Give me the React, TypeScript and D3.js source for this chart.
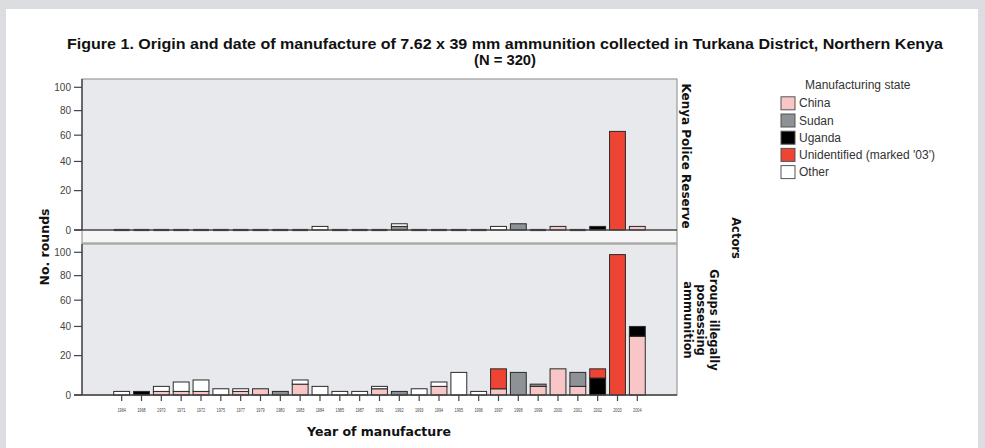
import React, { useEffect, useRef } from "react";
import * as d3 from "d3";

const years = [
  "1964", "1968", "1970", "1971", "1972", "1975", "1977", "1979", "1980",
  "1983", "1984", "1985", "1987", "1991", "1992", "1993", "1994", "1995",
  "1996", "1997", "1998", "1999", "2000", "2001", "2002", "2003", "2004",
];

const states = ["China", "Sudan", "Uganda", "Unidentified (marked '03')", "Other"];
const stateColors = ["#f8c6c6", "#8e9195", "#000000", "#ee4433", "#ffffff"];

// Kenya Police Reserve
const kprChina = [0, 0, 0, 0, 0, 0, 0, 0, 0, 0, 0, 0, 0, 0, 0, 0, 0, 0, 0, 0, 0, 0, 1, 0, 0, 0, 1];
const kprSudan = [0, 0, 0, 0, 0, 0, 0, 0, 0, 0, 0, 0, 0, 0, 1, 0, 0, 0, 0, 0, 2, 0, 0, 0, 0, 0, 0];
const kprUganda = [0, 0, 0, 0, 0, 0, 0, 0, 0, 0, 0, 0, 0, 0, 0, 0, 0, 0, 0, 0, 0, 0, 0, 0, 1, 0, 0];
const kprUnident = [0, 0, 0, 0, 0, 0, 0, 0, 0, 0, 0, 0, 0, 0, 0, 0, 0, 0, 0, 0, 0, 0, 0, 0, 0, 63, 0];
const kprOther = [0, 0, 0, 0, 0, 0, 0, 0, 0, 0, 1, 0, 0, 0, 1, 0, 0, 0, 0, 1, 0, 0, 0, 0, 0, 0, 0];

// Groups illegally possessing ammunition
const grpChina = [0, 0, 1, 1, 1, 0, 1, 2, 0, 4, 0, 0, 0, 2, 0, 0, 3, 0, 0, 2, 0, 3, 12, 3, 0, 0, 33];
const grpSudan = [0, 0, 0, 0, 0, 0, 0, 0, 1, 0, 0, 0, 0, 0, 1, 0, 0, 0, 0, 0, 10, 1, 0, 7, 0, 0, 0];
const grpUganda = [0, 1, 0, 0, 0, 0, 0, 0, 0, 0, 0, 0, 0, 0, 0, 0, 0, 0, 0, 0, 0, 0, 0, 0, 7, 0, 7];
const grpUnident = [0, 0, 0, 0, 0, 0, 0, 0, 0, 0, 0, 0, 0, 0, 0, 0, 0, 0, 0, 10, 0, 0, 0, 0, 5, 98, 0];
const grpOther = [1, 0, 2, 4, 5, 2, 1, 0, 0, 2, 3, 1, 1, 1, 0, 2, 2, 10, 1, 0, 0, 0, 0, 0, 0, 0, 0];

const yTicks = [0, 20, 40, 60, 80, 100];

const App: React.FC = () => {
  const ref = useRef<SVGSVGElement>(null);

  useEffect(() => {
    const W = 985, H = 448;
    const svg = d3.select(ref.current);
    svg.selectAll("*").remove();

    svg.append("rect").attr("width", W).attr("height", H).attr("fill", "#dcdde0");
    svg.append("rect").attr("x", 6).attr("y", 9).attr("width", 972).attr("height", H).attr("fill", "#ffffff");

    const plotL = 82, plotR = 677;
    const x = d3.scaleBand().domain(years).range([plotL, plotR]).paddingInner(0.2).paddingOuter(1.6);

    // title
    const titleFont = "'Liberation Sans Narrow', 'Liberation Sans', Arial, sans-serif";
    svg.append("text")
      .attr("x", 505).attr("y", 49)
      .attr("text-anchor", "middle")
      .attr("textLength", 876).attr("lengthAdjust", "spacingAndGlyphs")
      .style("font-family", titleFont)
      .style("font-weight", "bold").style("font-size", "14px").attr("fill", "#111")
      .text("Figure 1. Origin and date of manufacture of 7.62 x 39 mm ammunition collected in Turkana District, Northern Kenya");
    svg.append("text")
      .attr("x", 505).attr("y", 65)
      .attr("text-anchor", "middle")
      .attr("textLength", 62).attr("lengthAdjust", "spacingAndGlyphs")
      .style("font-family", titleFont)
      .style("font-weight", "bold").style("font-size", "14px").attr("fill", "#111")
      .text("(N = 320)");

    const keys = ["china", "sudan", "uganda", "unident", "other"];

    const panels = [
      { top: 79, base: 230, bottom: 243, y100: 87.3, series: [kprChina, kprSudan, kprUganda, kprUnident, kprOther] },
      { top: 244, base: 395, bottom: 395, y100: 252.3, series: [grpChina, grpSudan, grpUganda, grpUnident, grpOther] },
    ];

    panels.forEach((p, pi) => {
      const g = svg.append("g");
      const y = d3.scalePow().exponent(0.8).domain([0, 100]).range([p.base, p.y100]);

      g.append("rect").attr("x", plotL).attr("y", p.top).attr("width", plotR - plotL).attr("height", p.base - p.top)
        .attr("fill", "#e7e9ec");
      if (p.bottom > p.base) {
        g.append("rect").attr("x", plotL).attr("y", p.base).attr("width", plotR - plotL).attr("height", p.bottom - p.base)
          .attr("fill", "#f6f6f7");
      }
      g.append("rect").attr("x", plotL).attr("y", p.top).attr("width", plotR - plotL).attr("height", p.bottom - p.top)
        .attr("fill", "none").attr("stroke", "#9a9a9a").attr("stroke-width", 1.2);

      const rows = years.map((yr, i) => {
        const r: any = { year: yr };
        keys.forEach((k, ki) => (r[k] = p.series[ki][i]));
        return r;
      });
      const stacked = d3.stack().keys(keys)(rows);

      stacked.forEach((layer, li) => {
        g.selectAll(null)
          .data(layer.filter(d => d[1] - d[0] > 0))
          .enter()
          .append("rect")
          .attr("x", d => x((d.data as any).year)!)
          .attr("width", x.bandwidth())
          .attr("y", d => y(d[1]))
          .attr("height", d => y(d[0]) - y(d[1]))
          .attr("fill", stateColors[li])
          .attr("stroke", "#2a2a2a")
          .attr("stroke-width", 1);
      });

      // empty categories show as a dark dash on the baseline
      g.selectAll(null)
        .data(rows.filter(r => keys.every(k => r[k] === 0)))
        .enter()
        .append("line")
        .attr("x1", d => x(d.year)!)
        .attr("x2", d => x(d.year)! + x.bandwidth())
        .attr("y1", p.base).attr("y2", p.base)
        .attr("stroke", "#333").attr("stroke-width", 2.2);

      // axes
      g.append("line").attr("x1", plotL).attr("x2", plotL).attr("y1", p.top).attr("y2", p.base)
        .attr("stroke", "#444").attr("stroke-width", 1.4);
      g.append("line").attr("x1", plotL - 8).attr("x2", plotR).attr("y1", p.base).attr("y2", p.base)
        .attr("stroke", "#444").attr("stroke-width", 1.4);
      yTicks.forEach(t => {
        g.append("line").attr("x1", plotL - 8).attr("x2", plotL).attr("y1", y(t)).attr("y2", y(t))
          .attr("stroke", "#444").attr("stroke-width", 1.2);
        g.append("text").attr("x", plotL - 11).attr("y", y(t) + 3.5)
          .attr("text-anchor", "end")
          .style("font-family", "'Liberation Sans', Arial, sans-serif").style("font-size", "10px")
          .attr("fill", "#444").text(t);
      });

      if (pi === 1) {
        years.forEach(yr => {
          const cx = x(yr)! + x.bandwidth() / 2;
          g.append("line").attr("x1", cx).attr("x2", cx).attr("y1", p.base).attr("y2", p.base + 6)
            .attr("stroke", "#444").attr("stroke-width", 1.2);
          g.append("text").attr("x", cx).attr("y", 412)
            .attr("text-anchor", "middle")
            .attr("textLength", 8.5).attr("lengthAdjust", "spacingAndGlyphs")
            .style("font-family", "'Liberation Sans', Arial, sans-serif").style("font-size", "5.5px")
            .attr("fill", "#444").text(yr);
        });
      }
    });

    // axis titles
    svg.append("text").attr("x", 379).attr("y", 436).attr("text-anchor", "middle")
      .style("font-family", "'DejaVu Sans', Verdana, sans-serif").style("font-weight", "bold").style("font-size", "12.5px")
      .attr("fill", "#111").text("Year of manufacture");
    svg.append("text").attr("transform", "translate(49,247) rotate(-90)").attr("text-anchor", "middle")
      .style("font-family", "'DejaVu Sans', Verdana, sans-serif").style("font-weight", "bold").style("font-size", "12.5px")
      .attr("fill", "#111").text("No. rounds");

    // facet labels
    const stripFont = "'DejaVu Sans', Verdana, sans-serif";
    svg.append("text").attr("transform", "translate(682,156) rotate(90)").attr("text-anchor", "middle")
      .style("font-family", stripFont).style("font-weight", "bold").style("font-size", "12px")
      .attr("fill", "#111").text("Kenya Police Reserve");
    ["Groups illegally", "possessing", "ammunition"].forEach((t, i) => {
      svg.append("text").attr("transform", `translate(${710 - i * 13},320) rotate(90)`).attr("text-anchor", "middle")
        .style("font-family", stripFont).style("font-weight", "bold").style("font-size", "11.5px")
        .attr("fill", "#111").text(t);
    });
    svg.append("text").attr("transform", "translate(732,238) rotate(90)").attr("text-anchor", "middle")
      .style("font-family", stripFont).style("font-weight", "bold").style("font-size", "11.5px")
      .attr("fill", "#111").text("Actors");

    // legend
    const lg = svg.append("g");
    lg.append("text").attr("x", 805).attr("y", 89)
      .style("font-family", "'Liberation Sans', Arial, sans-serif").style("font-size", "12px")
      .attr("fill", "#333").text("Manufacturing state");
    states.forEach((s, i) => {
      const cy = 103.3 + i * 17.2;
      lg.append("rect").attr("x", 781).attr("y", cy - 6.5).attr("width", 14).attr("height", 13)
        .attr("fill", stateColors[i]).attr("stroke", "#555").attr("stroke-width", 1);
      lg.append("text").attr("x", 799).attr("y", cy + 4)
        .style("font-family", "'Liberation Sans', Arial, sans-serif").style("font-size", "12px")
        .attr("fill", "#333").text(s);
    });
  }, []);

  return (
    <svg
      ref={ref}
      width={985}
      height={448}
      style={{ position: "absolute", left: 0, top: 0, display: "block" }}
    />
  );
};

export default App;
